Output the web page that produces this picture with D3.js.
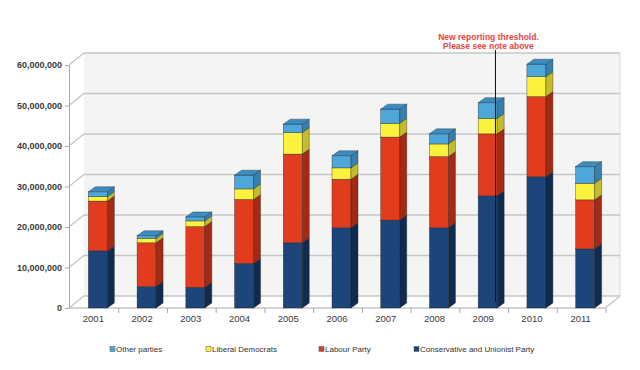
<!DOCTYPE html>
<html>
<head>
<meta charset="utf-8">
<script src="https://cdn.jsdelivr.net/npm/d3@7"></script>
<style>
  body { margin: 0; background: #fff; }
  svg { display: block; font-family: "Liberation Sans", Arial, sans-serif; }
  .axis text { fill: #3a3a3a; }
</style>
</head>
<body>
<div class="d3-wrapper"></div>
<script>
// Values in millions of pounds
const years = ['2001', '2002', '2003', '2004', '2005', '2006', '2007', '2008', '2009', '2010', '2011'];
const conservative = [14.1, 5.3, 5.1, 11.0, 16.1, 19.8, 21.7, 19.8, 27.7, 32.4, 14.6];
const labour = [12.3, 10.8, 15.0, 15.8, 21.9, 12.0, 20.5, 17.6, 15.3, 19.8, 12.1];
const libDems = [1.1, 1.1, 1.4, 2.6, 5.3, 2.8, 3.4, 3.1, 3.8, 4.9, 4.1];
const others = [1.2, 0.65, 1.0, 3.4, 2.1, 3.0, 3.5, 2.5, 3.9, 3.1, 4.1];
const yTicks = [0, 10e6, 20e6, 30e6, 40e6, 50e6, 60e6];

const SERIES = [
  { key: 'con', name: 'Conservative and Unionist Party', values: conservative, front: '#1d4579', side: '#112b50', top: '#16386a' },
  { key: 'lab', name: 'Labour Party', values: labour, front: '#e23c1f', side: '#a42a15', top: '#c03018' },
  { key: 'ld', name: 'Liberal Democrats', values: libDems, front: '#faf23c', side: '#c4bc2c', top: '#d8d030' },
  { key: 'oth', name: 'Other parties', values: others, front: '#4fa7d9', side: '#3780ae', top: '#3b8cc0' }
];

const WIDTH = 640, HEIGHT = 370;
const PLOT = { left: 69, right: 605, top: 65, bottom: 308 };
const DEPTH = { dx: 15, dy: 12 };       // back wall offset
const BAR = { width: 19, dx: 7, dy: 5, shift: 3.5 };

const xScale = d3.scaleBand().domain(years).range([PLOT.left + 1, PLOT.right + 1]);
const yScale = d3.scaleLinear().domain([0, 60e6]).range([PLOT.bottom, PLOT.top]);
const barX = yr => xScale(yr) + (xScale.bandwidth() - BAR.width) / 2 + BAR.shift;

const table = years.map((yr, i) => {
  const row = { year: yr };
  SERIES.forEach(s => { row[s.key] = s.values[i] * 1e6; });
  return row;
});
const stacked = d3.stack().keys(SERIES.map(s => s.key))(table);

const svg = d3.select('.d3-wrapper').append('svg')
  .attr('width', WIDTH)
  .attr('height', HEIGHT);

// back wall
const backRight = PLOT.right + DEPTH.dx;
svg.append('rect')
  .attr('x', PLOT.left + DEPTH.dx)
  .attr('y', yScale(60e6) - DEPTH.dy)
  .attr('width', backRight - PLOT.left - DEPTH.dx)
  .attr('height', yScale(0) - yScale(60e6))
  .attr('fill', '#f4f4f4');

svg.append('line')
  .attr('x1', backRight).attr('x2', backRight)
  .attr('y1', yScale(60e6) - DEPTH.dy).attr('y2', yScale(0) - DEPTH.dy)
  .attr('stroke', '#dadada');

// gridlines (left wall diagonal + back wall)
svg.append('g').selectAll('path')
  .data(yTicks)
  .join('path')
  .attr('d', d => {
    const y = yScale(d);
    return `M${PLOT.left},${y}L${PLOT.left + DEPTH.dx},${y - DEPTH.dy}L${backRight},${y - DEPTH.dy}`;
  })
  .attr('fill', 'none')
  .attr('stroke', '#c6c6c6')
  .attr('stroke-width', 1.3);

// floor front edge
svg.append('path')
  .attr('d', `M${PLOT.left},${yScale(0)}L${PLOT.right},${yScale(0)}L${backRight},${yScale(0) - DEPTH.dy}`)
  .attr('fill', 'none')
  .attr('stroke', '#c6c6c6')
  .attr('stroke-width', 1.3);

// y axis
const yAxis = d3.axisLeft(yScale)
  .tickValues(yTicks)
  .tickFormat(d3.format(','))
  .tickSizeInner(4)
  .tickSizeOuter(0)
  .tickPadding(3);

svg.append('g')
  .attr('class', 'axis')
  .attr('transform', `translate(${PLOT.left}, 0)`)
  .call(yAxis)
  .call(g => g.select('.domain').attr('stroke', '#a8a8a8'))
  .call(g => g.selectAll('.tick line').attr('stroke', '#a8a8a8'))
  .call(g => g.selectAll('text').attr('font-size', 9).attr('font-weight', 'bold').attr('fill', '#555'));

// x axis labels
const xAxis = d3.axisBottom(xScale).tickSize(0).tickPadding(7);
svg.append('g')
  .attr('class', 'axis')
  .attr('transform', `translate(-1, ${PLOT.bottom})`)
  .call(xAxis)
  .call(g => g.select('.domain').remove())
  .call(g => g.selectAll('text').attr('font-size', 9.5).attr('fill', '#333'));

// x tick marks at category boundaries
svg.append('g').selectAll('line')
  .data(years.slice(1).concat(['end']))
  .join('line')
  .attr('x1', d => d === 'end' ? PLOT.right + 1 : xScale(d))
  .attr('x2', d => d === 'end' ? PLOT.right + 1 : xScale(d))
  .attr('y1', PLOT.bottom)
  .attr('y2', PLOT.bottom + 5)
  .attr('stroke', '#a8a8a8');

// bars
const bars = svg.append('g');
stacked.forEach((layer, li) => {
  const s = SERIES[li];
  const g = bars.append('g').attr('class', 'series-' + s.key);
  layer.forEach((seg, i) => {
    const x0 = barX(years[i]);
    const x1 = x0 + BAR.width;
    const yb = yScale(seg[0]);
    const yt = yScale(seg[1]);
    g.append('rect')
      .attr('x', x0).attr('y', yt)
      .attr('width', BAR.width).attr('height', yb - yt)
      .attr('fill', s.front)
      .attr('stroke', '#1a1a1a').attr('stroke-width', 0.5).attr('stroke-opacity', 0.7);
    g.append('path')
      .attr('d', `M${x1},${yb}L${x1 + BAR.dx},${yb - BAR.dy}L${x1 + BAR.dx},${yt - BAR.dy}L${x1},${yt}Z`)
      .attr('fill', s.side)
      .attr('stroke', '#1a1a1a').attr('stroke-width', 0.5).attr('stroke-opacity', 0.7);
    if (li === stacked.length - 1) {
      g.append('path')
        .attr('d', `M${x0},${yt}L${x0 + BAR.dx},${yt - BAR.dy}L${x1 + BAR.dx},${yt - BAR.dy}L${x1},${yt}Z`)
        .attr('fill', s.top)
        .attr('stroke', '#1a1a1a').attr('stroke-width', 0.5).attr('stroke-opacity', 0.7);
    }
  });
});

// threshold annotation
const noteX = barX('2009') + BAR.width * 0.91;
svg.append('line')
  .attr('x1', noteX).attr('x2', noteX)
  .attr('y1', yScale(60e6) - DEPTH.dy - 3)
  .attr('y2', yScale(0) - 6)
  .attr('stroke', '#111')
  .attr('stroke-width', 1);

const note = svg.append('text')
  .attr('text-anchor', 'middle')
  .attr('font-size', 8.5)
  .attr('font-weight', 'bold')
  .attr('fill', '#e84444');
note.append('tspan').attr('x', noteX - 7).attr('y', 40).text('New reporting threshold.');
note.append('tspan').attr('x', noteX - 7).attr('y', 48.5).text('Please see note above');

// legend
const legendX = [113, 209, 322, 417];
const legendOrder = SERIES.slice().reverse();
const legend = svg.append('g')
  .selectAll('g')
  .data(legendOrder)
  .join('g')
  .attr('transform', (d, i) => `translate(${legendX[i]}, 349)`);

legend.append('rect')
  .attr('x', -3).attr('y', -2.5)
  .attr('width', 5).attr('height', 5)
  .attr('fill', d => d.front)
  .attr('stroke', '#555').attr('stroke-width', 0.5);

legend.append('text')
  .attr('x', 3)
  .attr('y', 3)
  .attr('font-size', 8)
  .attr('fill', '#333')
  .text(d => d.name);
</script>
</body>
</html>
